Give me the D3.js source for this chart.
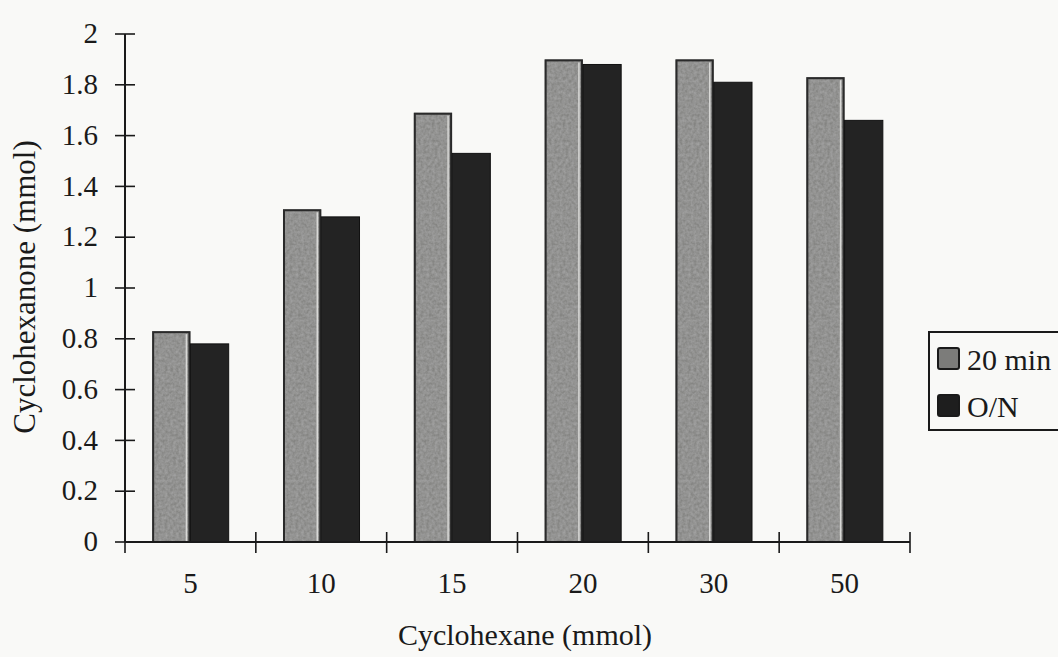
<!DOCTYPE html>
<html>
<head>
<meta charset="utf-8">
<script src="https://cdn.jsdelivr.net/npm/d3@7"></script>
<style>
  html, body { margin: 0; padding: 0; background: #f9f9f7; }
  svg { display: block; }
  text { font-family: "Liberation Serif", "Times New Roman", serif; fill: #1a1a1a; }
</style>
</head>
<body>
<svg id="chart" width="1058" height="657"></svg>
<script>
// Cyclohexane amount (category) vs cyclohexanone produced, two reaction times
const categories = ["5", "10", "15", "20", "30", "50"];
const seriesNames = ["20 min", "O/N"];
const values20min = [0.83, 1.31, 1.69, 1.90, 1.90, 1.83];
const valuesON = [0.78, 1.28, 1.53, 1.88, 1.81, 1.66];
const yTicks = [0, 0.2, 0.4, 0.6, 0.8, 1, 1.2, 1.4, 1.6, 1.8, 2];

const svg = d3.select("#chart");
const W = 1058, H = 657;
const plot = { left: 125, right: 910, top: 34, bottom: 542 };
const FS = 29;   // tick labels
const FT = 30;   // titles and legend

svg.append("rect").attr("width", W).attr("height", H).attr("fill", "#f9f9f7");

const defs = svg.append("defs");
// mottled grey fill for the 20 min bars
const filt = defs.append("filter").attr("id", "grain").attr("x", 0).attr("y", 0).attr("width", 1).attr("height", 1);
filt.append("feTurbulence").attr("type", "fractalNoise").attr("baseFrequency", 0.35).attr("numOctaves", 2).attr("seed", 4).attr("result", "noise");
filt.append("feColorMatrix").attr("in", "noise").attr("type", "matrix")
  .attr("values", "0 0 0 0 0.40  0 0 0 0 0.40  0 0 0 0 0.40  0 0 0 -1.1 0.9").attr("result", "spots");
filt.append("feComposite").attr("in", "spots").attr("in2", "SourceGraphic").attr("operator", "in").attr("result", "clip");
filt.append("feMerge").selectAll("feMergeNode").data(["SourceGraphic", "clip"]).join("feMergeNode").attr("in", d => d);

const x = d3.scaleBand().domain(categories).range([plot.left, plot.right]).paddingInner(0).paddingOuter(0);
const x1 = d3.scaleBand().domain(seriesNames).range([0, x.bandwidth()]).paddingInner(0).paddingOuter(0.71);
const y = d3.scaleLinear().domain([0, 2]).range([plot.bottom, plot.top]);

const data = categories.map((c, i) => ({ cat: c, vals: [values20min[i], valuesON[i]] }));

const groups = svg.append("g").selectAll("g").data(data).join("g")
  .attr("transform", d => `translate(${x(d.cat)},0)`);

// 20 min bars
groups.append("rect")
  .attr("x", x1("20 min")).attr("width", x1.bandwidth())
  .attr("y", d => y(d.vals[0])).attr("height", d => y(0) - y(d.vals[0]))
  .attr("fill", "#848482").attr("filter", "url(#grain)");
groups.append("rect")
  .attr("x", x1("20 min") + 1).attr("width", x1.bandwidth() - 2)
  .attr("y", d => y(d.vals[0]) + 1).attr("height", d => y(0) - y(d.vals[0]) - 1)
  .attr("fill", "none").attr("stroke", "#2a2a2a").attr("stroke-width", 2);
groups.append("line")
  .attr("x1", x1("20 min") + x1.bandwidth() - 4).attr("x2", x1("20 min") + x1.bandwidth() - 4)
  .attr("y1", d => y(d.vals[0]) + 3).attr("y2", y(0))
  .attr("stroke", "#d8d8d6").attr("stroke-width", 1.5);

// O/N bars
groups.append("rect")
  .attr("x", x1("O/N")).attr("width", x1.bandwidth())
  .attr("y", d => y(d.vals[1])).attr("height", d => y(0) - y(d.vals[1]))
  .attr("fill", "#232323").attr("stroke", "#111").attr("stroke-width", 1);

// Y axis
const yAxis = svg.append("g").attr("transform", `translate(${plot.left},0)`);
yAxis.append("line").attr("x1", 0).attr("x2", 0).attr("y1", y(2)).attr("y2", y(0))
  .attr("stroke", "#1a1a1a").attr("stroke-width", 2);
yAxis.selectAll("line.tick").data(yTicks).join("line").attr("class", "tick")
  .attr("x1", -10).attr("x2", 10).attr("y1", d => y(d)).attr("y2", d => y(d))
  .attr("stroke", "#1a1a1a").attr("stroke-width", 1.6);
yAxis.selectAll("text").data(yTicks).join("text")
  .attr("x", -27).attr("y", d => y(d)).attr("dy", "0.32em")
  .attr("text-anchor", "end").attr("font-size", FS)
  .text(d => d3.format("")(d));

// X axis
const xAxis = svg.append("g");
xAxis.append("line").attr("x1", plot.left).attr("x2", plot.right).attr("y1", y(0)).attr("y2", y(0))
  .attr("stroke", "#1a1a1a").attr("stroke-width", 2);
const boundaries = categories.map(c => x(c)).concat([x(categories[categories.length - 1]) + x.bandwidth()]);
xAxis.selectAll("line.tick").data(boundaries).join("line").attr("class", "tick")
  .attr("x1", d => d).attr("x2", d => d).attr("y1", y(0) - 10).attr("y2", y(0) + 11)
  .attr("stroke", "#1a1a1a").attr("stroke-width", 1.6);
xAxis.selectAll("text").data(categories).join("text")
  .attr("x", d => x(d) + x.bandwidth() / 2).attr("y", 593)
  .attr("text-anchor", "middle").attr("font-size", FS)
  .text(d => d);

// Axis titles
svg.append("text").attr("x", 525).attr("y", 645)
  .attr("text-anchor", "middle").attr("font-size", FT).text("Cyclohexane (mmol)");
svg.append("text").attr("transform", "translate(35,287) rotate(-90)")
  .attr("text-anchor", "middle").attr("font-size", FT + 1).text("Cyclohexanone (mmol)");

// Legend
const lg = svg.append("g").attr("transform", "translate(929,332)");
lg.append("rect").attr("x", 0).attr("y", 0).attr("width", 140).attr("height", 98)
  .attr("fill", "#f9f9f7").attr("stroke", "#1a1a1a").attr("stroke-width", 2);
const items = lg.selectAll("g").data(seriesNames).join("g")
  .attr("transform", (d, i) => `translate(9,${16 + i * 47})`);
items.append("rect").attr("width", 21).attr("height", 21)
  .attr("fill", (d, i) => i === 0 ? "#7c7c7a" : "#1e1e1e")
  .attr("stroke", "#1a1a1a").attr("stroke-width", 2).attr("rx", 2);
items.append("text").attr("x", 29).attr("y", 11).attr("dy", "0.35em")
  .attr("font-size", FT).text(d => d);
</script>
</body>
</html>
